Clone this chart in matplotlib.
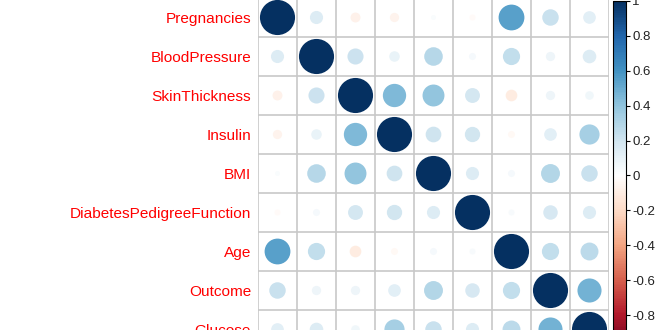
import numpy as np
import matplotlib
matplotlib.use("Agg")
import matplotlib.pyplot as plt
from matplotlib.colors import LinearSegmentedColormap, Normalize
from matplotlib.patches import Ellipse
from matplotlib.colorbar import ColorbarBase

plt.rcParams['font.family'] = ['Liberation Sans', 'DejaVu Sans']

labels = ["Pregnancies", "BloodPressure", "SkinThickness", "Insulin", "BMI",
          "DiabetesPedigreeFunction", "Age", "Outcome", "Glucose"]

# correlation matrix, rows/cols in the same order as labels
corr = [
    [1.00, 0.14, -0.08, -0.07, 0.02, -0.03, 0.54, 0.22, 0.13],
    [0.14, 1.00, 0.21, 0.09, 0.28, 0.04, 0.24, 0.07, 0.15],
    [-0.08, 0.21, 1.00, 0.44, 0.39, 0.18, -0.11, 0.07, 0.06],
    [-0.07, 0.09, 0.44, 1.00, 0.20, 0.19, -0.04, 0.13, 0.33],
    [0.02, 0.28, 0.39, 0.20, 1.00, 0.14, 0.04, 0.29, 0.22],
    [-0.03, 0.04, 0.18, 0.19, 0.14, 1.00, 0.03, 0.17, 0.14],
    [0.54, 0.24, -0.11, -0.04, 0.04, 0.03, 1.00, 0.24, 0.26],
    [0.22, 0.07, 0.07, 0.13, 0.29, 0.17, 0.24, 1.00, 0.47],
    [0.13, 0.15, 0.06, 0.33, 0.22, 0.14, 0.26, 0.47, 1.00],
]

cbar_ticks = [-1, -0.8, -0.6, -0.4, -0.2, 0, 0.2, 0.4, 0.6, 0.8, 1]

# RdBu palette as used by corrplot
col2 = ["#67001F", "#B2182B", "#D6604D", "#F4A582", "#FDDBC7", "#FFFFFF",
        "#D1E5F0", "#92C5DE", "#4393C3", "#2166AC", "#053061"]
cmap = LinearSegmentedColormap.from_list("col2", col2, N=200)
norm = Normalize(-1, 1)

W, H = 660, 330
fig = plt.figure(figsize=(W / 100, H / 100), dpi=100)

n = len(labels)
cell = 39.0
x0, y0 = 258.0, -2.0
ax = fig.add_axes([x0 / W, (H - y0 - n * cell) / H, n * cell / W, n * cell / H])
ax.set_xlim(0, n)
ax.set_ylim(n, 0)
for s in ax.spines.values():
    s.set_visible(False)

m = np.array(corr)
for i in range(n):
    for j in range(n):
        r = m[i, j]
        d = 2 * 0.45 * np.sqrt(abs(r))
        ax.add_patch(Ellipse((j + 0.5, i + 0.5), d, d,
                             facecolor=cmap(norm(r)), edgecolor="none", zorder=2))

for k in range(n + 1):
    ax.axhline(k, color="#C8C8C8", lw=1.2, zorder=1)
    ax.axvline(k, color="#C8C8C8", lw=1.2, zorder=1)

ax.set_xticks([])
ax.set_yticks(np.arange(n) + 0.5)
ax.set_yticklabels(labels, color="red", fontsize=11.1)
ax.tick_params(axis="y", length=0, pad=5)

cax = fig.add_axes([613 / W, (H - 350) / H, 12.5 / W, 349 / H])
cb = ColorbarBase(cax, cmap=cmap, norm=norm, ticks=cbar_ticks)
cb.ax.set_yticklabels(["%g" % t for t in cbar_ticks], fontsize=9.5, color="#222222")
cb.ax.tick_params(length=3, width=0.8, pad=2)
cb.outline.set_linewidth(0.8)

fig.savefig("out.png", dpi=100)
